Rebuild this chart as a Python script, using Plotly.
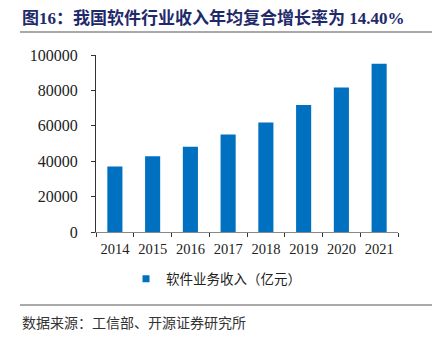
import plotly.graph_objects as go

years = ["2014", "2015", "2016", "2017", "2018", "2019", "2020", "2021"]
revenue = [37026, 42848, 48232, 55037, 61909, 71768, 81616, 94994]
series_name = "软件业务收入（亿元）"
y_ticks = [0, 20000, 40000, 60000, 80000, 100000]
y_ticktext = ["0", "20000", "40000", "60000", "80000", "100000"]
title_text = "图16：我国软件行业收入年均复合增长率为 14.40%"
source_text = "数据来源：工信部、开源证券研究所"

W, H = 442, 337
L, R, T, B = 96, 44, 55, 105
PW, PH = W - L - R, H - T - B
BAR = "#0070C0"

fig = go.Figure()
fig.add_trace(go.Bar(
    x=years, y=revenue, name=series_name,
    marker=dict(color=BAR, line=dict(width=0)),
    showlegend=False,
))
fig.add_trace(go.Scatter(
    x=[None], y=[None], name=series_name, mode="markers",
    marker=dict(symbol="square", size=7, color=BAR),
    showlegend=True,
))

fig.update_layout(
    width=W, height=H,
    margin=dict(l=L, r=R, t=T, b=B, pad=0),
    paper_bgcolor="white", plot_bgcolor="white",
    bargap=0.6,
    font=dict(family="Liberation Serif, Noto Sans CJK SC", size=13, color="#222"),
    xaxis=dict(
        type="category", showline=True, linecolor="#888", linewidth=1,
        ticks="outside", tickson="boundaries", ticklen=4, tickcolor="#333",
        tickangle=0, ticklabelstandoff=4,
        tickfont=dict(family="Liberation Serif", size=14.5, color="#222"),
        showgrid=False, zeroline=False, range=[-0.5, 7.5],
    ),
    yaxis=dict(
        range=[0, 100000], tickvals=y_ticks, ticktext=y_ticktext,
        showline=True, linecolor="#333", linewidth=1,
        ticks="outside", ticklen=4, tickcolor="#333", ticklabelstandoff=10,
        tickfont=dict(family="Liberation Serif", size=16, color="#222"),
        showgrid=False, zeroline=False,
    ),
    legend=dict(
        orientation="h", x=(126 - L) / PW, xanchor="left",
        y=-(279 - (H - B)) / PH, yanchor="middle",
        font=dict(family="Noto Sans CJK SC", size=13.5, color="#222"),
        itemwidth=30, bgcolor="rgba(0,0,0,0)",
    ),
    annotations=[
        dict(text="<b>" + title_text + "</b>", xref="paper", yref="paper",
             x=-(L - 20) / PW, y=1 + (T - 18) / PH,
             xanchor="left", yanchor="middle", showarrow=False,
             font=dict(family="Liberation Serif, Noto Sans CJK SC", size=17, color="#1F2A6B")),
        dict(text=source_text, xref="paper", yref="paper",
             x=-(L - 20) / PW, y=-(322 - (H - B)) / PH,
             xanchor="left", yanchor="middle", showarrow=False,
             font=dict(family="Noto Sans CJK SC", size=14, color="#333")),
    ],
    shapes=[
        dict(type="line", xref="paper", yref="paper",
             x0=-(L - 20) / PW, x1=1 + (432 - (W - R)) / PW,
             y0=1 + (T - 32) / PH, y1=1 + (T - 32) / PH,
             line=dict(color="#555", width=1.2)),
        dict(type="line", xref="paper", yref="paper",
             x0=-(L - 20) / PW, x1=1 + (432 - (W - R)) / PW,
             y0=-(305 - (H - B)) / PH, y1=-(305 - (H - B)) / PH,
             line=dict(color="#555", width=1)),
    ],
)

fig.write_html("out.html")
